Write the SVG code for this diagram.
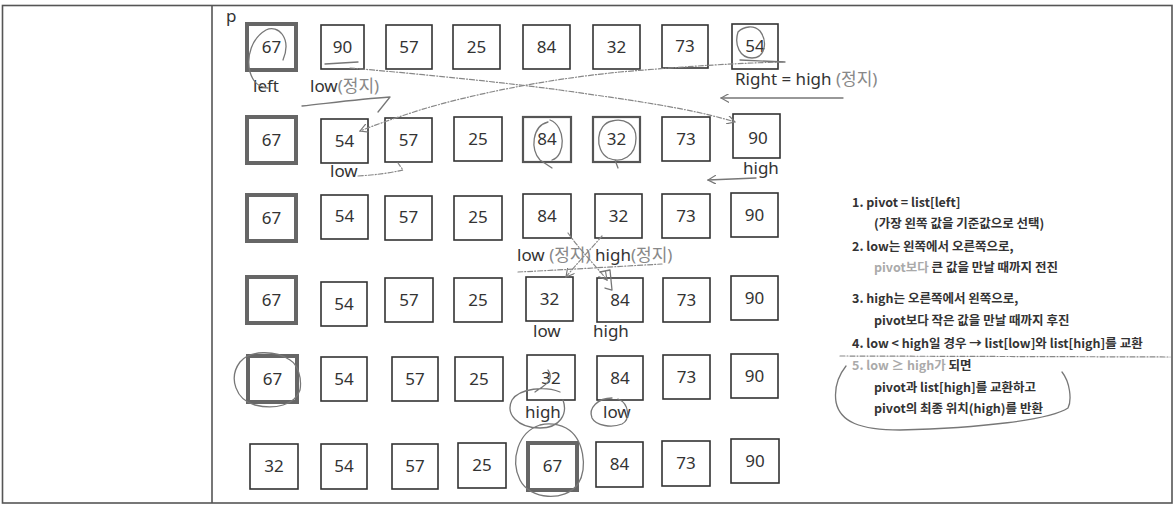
<svg xmlns="http://www.w3.org/2000/svg" width="1176" height="506" viewBox="0 0 1176 506">
<style>
.frame{fill:none;stroke:#555;stroke-width:1.6}
.b{fill:#fff;stroke:#333;stroke-width:1.6}
.p{fill:#fff;stroke:#666;stroke-width:4}
.c{fill:#fff;stroke:#555;stroke-width:2.2}
.n{font-family:"Noto Sans","Noto Sans CJK KR",sans-serif;font-size:17px;fill:#333;text-anchor:middle}
.l{font-family:"Noto Sans","Noto Sans CJK KR",sans-serif;font-size:17px;fill:#333}
.k{fill:#888}
.r{font-family:"Noto Sans CJK KR","Noto Sans",sans-serif;font-size:12.5px;font-weight:bold;fill:#333}
.f{fill:#aaa}
.h{fill:none;stroke:#777;stroke-width:1.3;stroke-linecap:round;stroke-linejoin:round}
.d{fill:none;stroke:#888;stroke-width:1.2;stroke-dasharray:5 2 1 2;stroke-linecap:round}
</style>
<defs>
<marker id="ah" viewBox="0 0 10 10" refX="9" refY="5" markerWidth="9" markerHeight="9" orient="auto-start-reverse" markerUnits="userSpaceOnUse">
<path d="M0,0 L9,5 L0,10" fill="none" stroke="#777" stroke-width="1.3"/>
</marker>
</defs>
<rect width="1176" height="506" fill="#fff"/>
<g id="frame">
<rect class="frame" x="2.5" y="5.5" width="1169.5" height="497.5"/>
<line class="frame" x1="212" y1="5.5" x2="212" y2="503"/>
</g>

<g id="row1">
<g id="r1c1"><rect class="p" x="247" y="24" width="49" height="46"/><text class="n" x="271.5" y="53">67</text></g>
<g id="r1c2"><rect class="b" x="321" y="25" width="43" height="44"/><text class="n" x="342.5" y="53">90</text></g>
<g id="r1c3"><rect class="b" x="386" y="25" width="46" height="44"/><text class="n" x="409" y="53">57</text></g>
<g id="r1c4"><rect class="b" x="453" y="25" width="47" height="44"/><text class="n" x="476.5" y="53">25</text></g>
<g id="r1c5"><rect class="b" x="523" y="25" width="47" height="44"/><text class="n" x="546.5" y="53">84</text></g>
<g id="r1c6"><rect class="b" x="593" y="25" width="47" height="44"/><text class="n" x="616.5" y="53">32</text></g>
<g id="r1c7"><rect class="b" x="662" y="25" width="46" height="43"/><text class="n" x="685" y="52">73</text></g>
<g id="r1c8"><rect class="b" x="732" y="24" width="46" height="45"/><text class="n" x="755" y="52">54</text></g>
</g>

<g id="row2">
<g id="r2c1"><rect class="p" x="247" y="117" width="49" height="46"/><text class="n" x="271.5" y="146">67</text></g>
<g id="r2c2"><rect class="b" x="321" y="119" width="47" height="44"/><text class="n" x="344.5" y="147">54</text></g>
<g id="r2c3"><rect class="b" x="385" y="118" width="47" height="44"/><text class="n" x="408.5" y="146">57</text></g>
<g id="r2c4"><rect class="b" x="454" y="117" width="48" height="44"/><text class="n" x="478" y="145">25</text></g>
<g id="r2c5"><rect class="c" x="523" y="117" width="48" height="45"/><text class="n" x="547" y="145">84</text></g>
<g id="r2c6"><rect class="c" x="593" y="117" width="47" height="45"/><text class="n" x="616.5" y="145">32</text></g>
<g id="r2c7"><rect class="b" x="662" y="117" width="48" height="44"/><text class="n" x="686" y="145">73</text></g>
<g id="r2c8"><rect class="b" x="733" y="114" width="47" height="44"/><text class="n" x="758" y="144">90</text></g>
</g>

<g id="row3">
<g id="r3c1"><rect class="p" x="247" y="195" width="49" height="46"/><text class="n" x="271.5" y="224">67</text></g>
<g id="r3c2"><rect class="b" x="321" y="195" width="47" height="44"/><text class="n" x="344.5" y="222">54</text></g>
<g id="r3c3"><rect class="b" x="385" y="196" width="47" height="44"/><text class="n" x="408.5" y="223">57</text></g>
<g id="r3c4"><rect class="b" x="454" y="196" width="48" height="44"/><text class="n" x="478" y="223">25</text></g>
<g id="r3c5"><rect class="b" x="523" y="194" width="48" height="44"/><text class="n" x="547" y="222">84</text></g>
<g id="r3c6"><rect class="b" x="595" y="194" width="47" height="44"/><text class="n" x="618.5" y="222">32</text></g>
<g id="r3c7"><rect class="b" x="662" y="194" width="48" height="44"/><text class="n" x="686" y="222">73</text></g>
<g id="r3c8"><rect class="b" x="731" y="193" width="47" height="44"/><text class="n" x="754.5" y="221">90</text></g>
</g>

<g id="row4">
<g id="r4c1"><rect class="p" x="247" y="277" width="49" height="46"/><text class="n" x="271.5" y="306">67</text></g>
<g id="r4c2"><rect class="b" x="321" y="282" width="46" height="44"/><text class="n" x="344" y="310">54</text></g>
<g id="r4c3"><rect class="b" x="385" y="278" width="48" height="44"/><text class="n" x="409" y="306">57</text></g>
<g id="r4c4"><rect class="b" x="454" y="278" width="48" height="44"/><text class="n" x="478" y="306">25</text></g>
<g id="r4c5"><rect class="b" x="526" y="277" width="47" height="44"/><text class="n" x="549.5" y="305">32</text></g>
<g id="r4c6"><rect class="b" x="597" y="278" width="46" height="44"/><text class="n" x="620" y="306">84</text></g>
<g id="r4c7"><rect class="b" x="663" y="278" width="47" height="44"/><text class="n" x="686.5" y="306">73</text></g>
<g id="r4c8"><rect class="b" x="731" y="276" width="47" height="44"/><text class="n" x="754.5" y="304">90</text></g>
</g>

<g id="row5">
<g id="r5c1"><rect class="p" x="248" y="356" width="49" height="46"/><text class="n" x="272.5" y="385">67</text></g>
<g id="r5c2"><rect class="b" x="321" y="357" width="46" height="44"/><text class="n" x="344" y="385">54</text></g>
<g id="r5c3"><rect class="b" x="392" y="357" width="46" height="44"/><text class="n" x="415" y="385">57</text></g>
<g id="r5c4"><rect class="b" x="455" y="357" width="48" height="44"/><text class="n" x="479" y="385">25</text></g>
<g id="r5c5"><rect class="b" x="527" y="355" width="48" height="45"/><text class="n" x="551" y="384">32</text></g>
<g id="r5c6"><rect class="b" x="597" y="356" width="46" height="44"/><text class="n" x="620" y="384">84</text></g>
<g id="r5c7"><rect class="b" x="663" y="355" width="47" height="44"/><text class="n" x="686.5" y="383">73</text></g>
<g id="r5c8"><rect class="b" x="731" y="354" width="47" height="44"/><text class="n" x="754.5" y="382">90</text></g>
</g>

<g id="row6">
<g id="r6c1"><rect class="b" x="250" y="444" width="48" height="45"/><text class="n" x="274" y="472">32</text></g>
<g id="r6c2"><rect class="b" x="321" y="444" width="46" height="45"/><text class="n" x="344" y="472">54</text></g>
<g id="r6c3"><rect class="b" x="392" y="444" width="46" height="45"/><text class="n" x="415" y="472">57</text></g>
<g id="r6c4"><rect class="b" x="458" y="443" width="48" height="45"/><text class="n" x="482" y="471">25</text></g>
<g id="r6c5"><rect class="p" x="528" y="443" width="49" height="47"/><text class="n" x="552.5" y="472">67</text></g>
<g id="r6c6"><rect class="b" x="596" y="442" width="47" height="45"/><text class="n" x="619.5" y="470">84</text></g>
<g id="r6c7"><rect class="b" x="662" y="441" width="48" height="45"/><text class="n" x="686" y="469">73</text></g>
<g id="r6c8"><rect class="b" x="731" y="439" width="48" height="44"/><text class="n" x="755" y="467">90</text></g>
</g>

<g id="labels">
<text class="l" x="226" y="22">p</text>
<text class="l" x="253" y="92">left</text>
<text class="l" x="310" y="92">low<tspan class="k">(정지)</tspan></text>
<text class="l" x="735" y="85">Right = high <tspan class="k">(정지)</tspan></text>
<text class="l" x="330" y="177">low</text>
<text class="l" x="743" y="174">high</text>
<text class="l" x="517" y="261">low <tspan class="k">(정지)</tspan> high<tspan class="k">(정지)</tspan></text>
<text class="l" x="533" y="337">low</text>
<text class="l" x="593" y="337">high</text>
<text class="l" x="525" y="418">high</text>
<text class="l" x="603" y="418">low</text>
</g>

<g id="notes">
<text class="r" x="852" y="207">1.  pivot = list[left]</text>
<text class="r" x="874" y="228">(가장 왼쪽 값을 기준값으로 선택)</text>
<text class="r" x="852" y="251">2.  low는 왼쪽에서 오른쪽으로,</text>
<text class="r" x="874" y="272"><tspan class="f">pivot보다</tspan> 큰 값을 만날 때까지 전진</text>
<text class="r" x="852" y="303">3.  high는 오른쪽에서 왼쪽으로,</text>
<text class="r" x="874" y="325">pivot보다 작은 값을 만날 때까지 후진</text>
<text class="r" x="852" y="348">4.  low &lt; high일 경우 → list[low]와 list[high]를 교환</text>
<text class="r" x="852" y="370"><tspan class="f">5.  low ≥ high가</tspan> 되면</text>
<text class="r" x="874" y="392">pivot과 list[high]를 교환하고</text>
<text class="r" x="874" y="413">pivot의 최종 위치(high)를 반환</text>
</g>

<g id="connectors">
<path class="d" d="M783,62 C740,63 690,66 620,72 C540,80 470,95 420,110 C395,118 375,125 360,131" marker-end="url(#ah)"/>
<path class="d" d="M350,68 C420,74 500,82 560,90 C630,100 690,108 735,122" marker-end="url(#ah)"/>
<path class="h" d="M325,64 L358,62"/>
<path class="h" d="M283,60 C292,38 278,24 266,30 C252,38 246,56 250,72 C253,82 258,87 268,88"/>
<path class="h" d="M302,106 C330,103 360,99 390,97 L378,112"/>
<path class="h" d="M738,32 C734,45 740,58 752,58 C765,58 768,42 760,31 C754,25 744,26 738,32 M740,60 L785,62"/>
<path class="h" d="M843,98 L721,98" marker-end="url(#ah)"/>
<path class="d" d="M358,176 C375,175 390,173 403,170 L398,163"/>
<path class="h" d="M756,178 L708,180" marker-end="url(#ah)"/>
<path class="h" d="M548,122 C532,126 530,150 540,160 L552,168 M552,160 C566,156 566,126 550,120"/>
<path class="h" d="M612,121 C596,124 594,150 608,158 C622,164 636,156 636,138 C636,124 624,118 612,121 M615,160 L618,168"/>
<path class="d" d="M568,233 C580,250 595,265 607,280" marker-end="url(#ah)"/>
<path class="d" d="M602,236 C590,250 578,262 566,277" marker-end="url(#ah)"/>
<path class="d" d="M518,272 C560,270 610,267 662,264"/>
<path class="h" d="M600,272 L610,270 L612,290 L605,288"/>
<path class="h" d="M290,360 C275,350 250,350 240,362 C228,378 236,400 255,405 C275,410 295,405 300,390 C302,378 298,365 290,360"/>
<path class="h" d="M560,392 C545,386 520,388 512,400 C505,414 518,428 540,428 C560,428 568,414 563,400 M535,392 C545,385 555,380 548,370"/>
<path class="h" d="M612,398 C598,398 588,408 592,418 C596,426 612,428 622,424 C630,420 630,404 618,399"/>
<path class="h" d="M540,425 C518,432 510,460 520,480 C530,500 565,502 578,484 C588,468 584,438 566,428 C558,424 548,423 540,425"/>
<path class="d" d="M840,356 L1170,357"/>
<path class="h" d="M1062,372 C1070,382 1072,400 1068,408 C1050,420 980,428 900,430 C860,430 840,422 836,402 C834,388 838,376 846,366"/>
</g>
</svg>
